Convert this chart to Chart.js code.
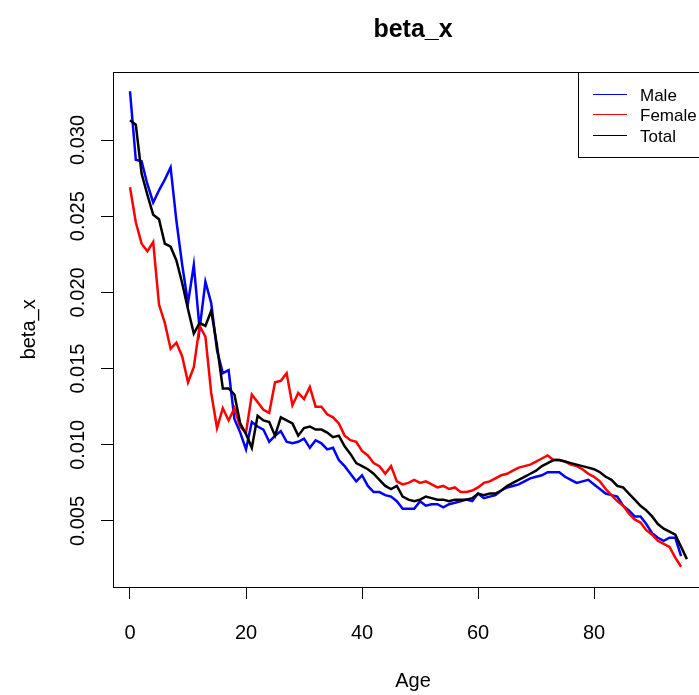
<!DOCTYPE html>
<html>
<head>
<meta charset="utf-8">
<title>beta_x</title>
<script src="https://cdn.jsdelivr.net/npm/chart.js@4/dist/chart.umd.min.js"></script>
<style>
  html, body { margin: 0; padding: 0; background: #fff; overflow: hidden; }
  #wrap { position: relative; width: 740px; height: 695px; }
</style>
</head>
<body>
<div id="wrap"><canvas id="betaChart"></canvas></div>
<script>
// ages on the x axis (Total has one more age than Male / Female)
const ages = [0,1,2,3,4,5,6,7,8,9,10,11,12,13,14,15,16,17,18,19,20,21,22,23,24,25,26,27,28,29,
  30,31,32,33,34,35,36,37,38,39,40,41,42,43,44,45,46,47,48,49,50,51,52,53,54,55,56,57,58,59,
  60,61,62,63,64,65,66,67,68,69,70,71,72,73,74,75,76,77,78,79,80,81,82,83,84,85,86,87,88,89,
  90,91,92,93,94,95,96];

const male = [.0332,.0287,.0286,.0271,.0259,.0267,.0274,.0282,.0247,.0218,
  .0193,.0218,.0176,.0207,.0193,.0162,.0147,.0149,.0117,.0108,
  .0097,.0115,.0112,.0110,.0102,.0106,.0109,.0102,.0101,.0102,
  .0104,.0098,.0103,.0101,.0097,.0098,.0090,.0086,.0081,.0076,
  .0080,.0073,.0069,.0069,.0067,.0066,.0063,.0058,.0058,.0058,
  .0063,.0060,.0061,.0061,.0059,.0061,.0062,.0063,.0064,.0063,
  .0068,.0065,.0066,.0067,.0070,.0072,.0073,.0074,.0076,.0078,
  .0079,.0080,.0082,.0082,.0082,.0079,.0077,.0075,.0076,.0077,
  .0074,.0071,.0068,.0067,.0066,.0060,.0057,.0053,.0053,.0048,
  .0042,.0039,.0037,.0039,.0039,.0027];

const female = [.0269,.0246,.0232,.0227,.0233,.0192,.0180,.0163,.0167,.0158,
  .0141,.0151,.0178,.0171,.0134,.0111,.0124,.0116,.0124,.0112,
  .0108,.0133,.0128,.0123,.0121,.0141,.0142,.0147,.0126,.0134,
  .0130,.0138,.0125,.0125,.0120,.0118,.0114,.0106,.0103,.0102,
  .0096,.0093,.0088,.0086,.0081,.0086,.0076,.0074,.0075,.0077,
  .0075,.0076,.0074,.0072,.0073,.0071,.0072,.0069,.0069,.0070,
  .0072,.0075,.0076,.0078,.0080,.0081,.0083,.0085,.0086,.0087,
  .0089,.0091,.0093,.0090,.0090,.0089,.0087,.0086,.0084,.0081,
  .0079,.0076,.0071,.0067,.0063,.0060,.0055,.0051,.0049,.0044,
  .0041,.0037,.0035,.0033,.0026,.0020];

const total = [.0313,.0310,.0278,.0264,.0251,.0248,.0232,.0230,.0221,.0206,
  .0189,.0173,.0180,.0178,.0188,.0165,.0137,.0137,.0133,.0114,
  .0107,.0098,.0119,.0116,.0115,.0106,.0118,.0116,.0114,.0106,
  .0111,.0112,.0110,.0110,.0108,.0105,.0106,.0099,.0094,.0088,
  .0086,.0084,.0081,.0077,.0073,.0071,.0073,.0066,.0064,.0063,
  .0064,.0066,.0065,.0064,.0064,.0063,.0064,.0064,.0064,.0065,
  .0068,.0067,.0068,.0068,.0070,.0073,.0075,.0077,.0079,.0081,
  .0083,.0086,.0088,.0090,.0090,.0089,.0088,.0087,.0086,.0085,
  .0084,.0082,.0079,.0077,.0073,.0072,.0068,.0064,.0060,.0057,
  .0053,.0048,.0045,.0043,.0041,.0033,.0025];

const xTicks = [0, 20, 40, 60, 80];
const yTicks = [0.005, 0.010, 0.015, 0.020, 0.025, 0.030];
const seriesNames = ['Male', 'Female', 'Total'];
const seriesColors = ['#0000ff', '#ff0000', '#000000'];

const FONT = "'Liberation Sans', Arial, sans-serif";

document.addEventListener('DOMContentLoaded', function() {
  initChart();
});

/**
 * pair ages with values
 */
function toPoints(values) {
  return values.map((v, i) => ({ x: ages[i], y: v }));
}

/**
 * box around the plot + legend in the top right corner (R style)
 */
const rBoxPlugin = {
  id: 'rBox',
  afterDraw(chart) {
    const ctx = chart.ctx;
    const a = chart.chartArea;
    ctx.save();
    ctx.strokeStyle = '#000';
    ctx.lineWidth = 1;
    ctx.strokeRect(Math.round(a.left) + 0.5, Math.round(a.top) + 0.5,
      Math.round(a.right - a.left), Math.round(a.bottom - a.top));

    // legend
    const lx = 578, ly = Math.round(a.top) + 0.5;
    ctx.fillStyle = '#fff';
    ctx.fillRect(lx, ly, a.right - lx, 85);
    ctx.strokeRect(lx + 0.5, ly, Math.round(a.right) - lx, 85);
    ctx.font = '17px ' + FONT;
    ctx.textBaseline = 'middle';
    ctx.textAlign = 'left';
    seriesNames.forEach(function(name, i) {
      const y = ly + 21 + i * 20.7;
      ctx.strokeStyle = seriesColors[i];
      ctx.lineWidth = 1;
      ctx.beginPath();
      ctx.moveTo(593, Math.round(y) + 0.5);
      ctx.lineTo(627, Math.round(y) + 0.5);
      ctx.stroke();
      ctx.fillStyle = '#000';
      ctx.fillText(name, 640, y + 2.5);
    });
    ctx.restore();
  }
};

/**
 * build the chart
 */
function initChart() {
  const ctx = document.getElementById('betaChart');
  const lists = [male, female, total];

  new Chart(ctx, {
    type: 'line',
    data: {
      datasets: lists.map(function(list, i) {
        return {
          label: seriesNames[i],
          data: toPoints(list),
          borderColor: seriesColors[i],
          backgroundColor: seriesColors[i],
          borderWidth: 2.5,
          pointRadius: 0,
          tension: 0,
          fill: false,
          order: 3 - i
        };
      })
    },
    options: {
      responsive: true,
      maintainAspectRatio: false,
      animation: false,
      layout: { padding: { left: 0, right: 27, top: 0, bottom: 0 } },
      scales: {
        x: {
          type: 'linear',
          min: -2.93,
          max: 100.5,
          afterBuildTicks: function(scale) { scale.ticks = xTicks.map(v => ({ value: v })); },
          afterFit: function(scale) { scale.height = 108; },
          border: { display: false },
          grid: { drawOnChartArea: false, color: '#000', tickLength: 12, lineWidth: 1 },
          ticks: { color: '#000', font: { family: FONT, size: 20 }, padding: 22, maxRotation: 0 },
          title: { display: true, text: 'Age', color: '#000',
            font: { family: FONT, size: 20 }, padding: { top: 0, bottom: 2 } }
        },
        y: {
          type: 'linear',
          min: 0.000669,
          max: 0.034482,
          afterBuildTicks: function(scale) { scale.ticks = yTicks.map(v => ({ value: v })); },
          afterFit: function(scale) { scale.width = 113; },
          border: { display: false },
          grid: { drawOnChartArea: false, color: '#000', tickLength: 12, lineWidth: 1 },
          ticks: { color: '#000', font: { family: FONT, size: 20 }, padding: -3,
            minRotation: 90, maxRotation: 90, crossAlign: 'center',
            callback: v => v.toFixed(3) },
          title: { display: true, text: 'beta_x', color: '#000',
            font: { family: FONT, size: 20 }, padding: { top: 17, bottom: 0 } }
        }
      },
      plugins: {
        legend: { display: false },
        tooltip: { enabled: false },
        title: {
          display: true,
          text: 'beta_x',
          fullSize: false,
          color: '#000',
          font: { family: FONT, size: 25, weight: 'bold' },
          padding: { top: 15, bottom: 26.7 }
        }
      }
    },
    plugins: [rBoxPlugin]
  });
}
</script>
</body>
</html>
